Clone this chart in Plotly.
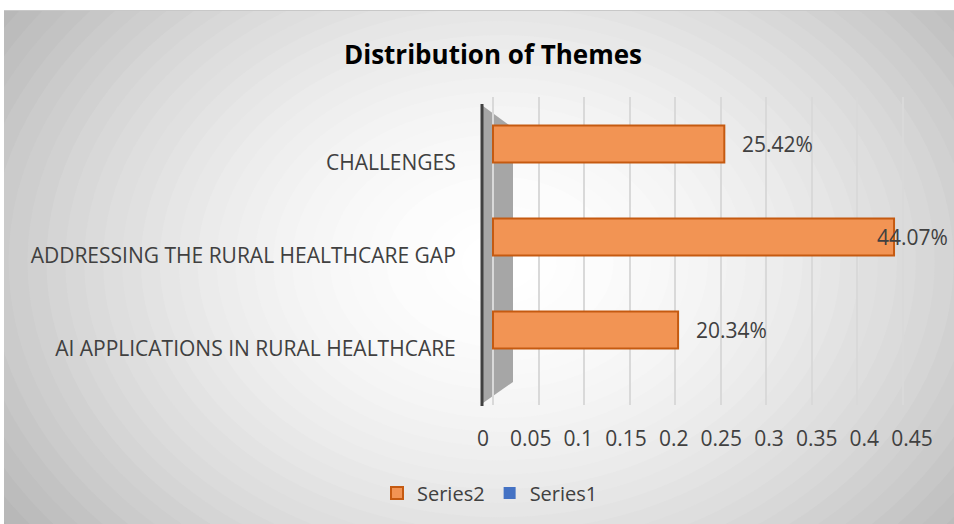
import plotly.graph_objects as go

# ---------------- data ----------------
categories = [
    "AI APPLICATIONS IN RURAL HEALTHCARE",
    "ADDRESSING THE RURAL HEALTHCARE GAP",
    "CHALLENGES",
]
series2 = [0.2034, 0.4407, 0.2542]
series2_labels = ["20.34%", "44.07%", "25.42%"]
series1 = [0, 0, 0]
x_tick_vals = [0, 0.05, 0.1, 0.15, 0.2, 0.25, 0.3, 0.35, 0.4, 0.45]
x_tick_text = ["0", "0.05", "0.1", "0.15", "0.2", "0.25", "0.3", "0.35", "0.4", "0.45"]

# ---------------- layout geometry ----------------
W, H = 954, 524
L, R, T, B = 483, 912, 97, 405          # plot area in pixels
FONT = "Open Sans"
TXT = "#404040"


def xp(px):
    return (px - L) / (R - L)


def yp(py):
    return (B - py) / (B - T)


# bar axis: front plane of the 3D bars
bar_zero_px, bar_scale = 493, 910
x_range = [(L - bar_zero_px) / bar_scale, (R - bar_zero_px) / bar_scale]
band, c0 = 93, 330
y_range = [-(B - c0) / band, (c0 - T) / band]
lab_shift = 19 / band
y2_range = [y_range[0] + lab_shift, y_range[1] + lab_shift]

fig = go.Figure()
fig.add_trace(go.Bar(
    name="Series2", x=series2, y=categories, orientation="h",
    xaxis="x", yaxis="y", width=0.4,
    marker=dict(color="#F29454", line=dict(color="#C55A11", width=2)),
    hoverinfo="x+y",
))
fig.add_trace(go.Bar(
    name="Series1", x=series1, y=categories, orientation="h",
    xaxis="x2", yaxis="y2", width=0.4,
    marker=dict(color="#4472C4", line=dict(color="#2F528F", width=0)),
))

# background: radial gradient approximated by concentric ellipses
shapes = []
cx, cy, rx, ry = 500, 262, 560, 420
shapes.append(dict(type="rect", xref="paper", yref="paper",
                   x0=xp(4), x1=xp(W), y0=yp(10), y1=yp(H),
                   fillcolor="#bdbdbd", line=dict(width=0), layer="below"))
N = 40
for k in range(N):
    r = 1.35 * (1 - k / N)
    g = int(round(255 - 62 * r ** 1.8))
    g = max(0, min(255, g))
    col = f"rgb({g},{g},{g})"
    shapes.append(dict(type="circle", xref="paper", yref="paper",
                       x0=xp(cx - r * rx), x1=xp(cx + r * rx),
                       y0=yp(cy + r * ry), y1=yp(cy - r * ry),
                       fillcolor=col, line=dict(width=0), layer="below"))
# white outside margins
shapes.append(dict(type="rect", xref="paper", yref="paper",
                   x0=xp(-50), x1=xp(W + 50), y0=yp(10), y1=yp(-50),
                   fillcolor="white", line=dict(width=0), layer="below"))
shapes.append(dict(type="rect", xref="paper", yref="paper",
                   x0=xp(-50), x1=xp(4), y0=yp(H + 50), y1=yp(-50),
                   fillcolor="white", line=dict(width=0), layer="below"))
shapes.append(dict(type="line", xref="paper", yref="paper",
                   x0=xp(4), x1=xp(W), y0=yp(10.5), y1=yp(10.5),
                   line=dict(color="#c8c8c8", width=1), layer="below"))
# side wall of the 3D category axis
shapes.append(dict(type="path", xref="paper", yref="paper",
                   path=(f"M {xp(483)} {yp(106)} L {xp(513)} {yp(128)} "
                         f"L {xp(513)} {yp(382)} L {xp(483)} {yp(403)} Z"),
                   fillcolor="#a6a6a6", line=dict(width=0), layer="below"))
shapes.append(dict(type="line", xref="paper", yref="paper",
                   x0=xp(482), x1=xp(482), y0=yp(104), y1=yp(406),
                   line=dict(color="#404040", width=3), layer="below"))

# data labels
annotations = []
LABEL_W = 78
for v, c, t in zip(series2, categories, series2_labels):
    end_px = bar_zero_px + v * bar_scale
    shift = 16 if end_px + 16 + LABEL_W <= W else (W - 1 - LABEL_W) - end_px
    annotations.append(dict(x=v, y=c, xref="x", yref="y", text=t,
                            showarrow=False, xanchor="left", yanchor="middle",
                            xshift=shift, font=dict(family=FONT, size=21, color=TXT)))

fig.update_layout(
    width=W, height=H,
    margin=dict(l=L, r=W - R, t=T, b=H - B, pad=0),
    paper_bgcolor="white", plot_bgcolor="rgba(0,0,0,0)",
    title=dict(text="<b>Distribution of Themes</b>", x=493 / W, xanchor="center",
               y=1 - 55 / H, yanchor="middle", xref="container", yref="container",
               font=dict(family=FONT, size=26, color="black")),
    xaxis=dict(range=x_range, showticklabels=False, showgrid=True,
               gridcolor="#d9d9d9", gridwidth=1.5, tick0=0, dtick=0.05,
               zeroline=False, showline=False, fixedrange=True),
    yaxis=dict(range=y_range, showticklabels=False, showgrid=False,
               categoryorder="array", categoryarray=categories,
               zeroline=False, showline=False),
    xaxis2=dict(overlaying="x", anchor="y2", side="bottom", range=[0, 0.45],
                tickvals=x_tick_vals, ticktext=x_tick_text, showgrid=False,
                zeroline=False, showline=False, ticks="outside", ticklen=15,
                tickcolor="rgba(0,0,0,0)",
                tickfont=dict(family=FONT, size=21, color=TXT)),
    yaxis2=dict(overlaying="y", anchor="x2", side="left", range=y2_range,
                categoryorder="array", categoryarray=categories, showgrid=False,
                zeroline=False, showline=False, ticks="outside", ticklen=22,
                tickcolor="rgba(0,0,0,0)",
                tickfont=dict(family=FONT, size=21, color=TXT)),
    barmode="group",
    showlegend=True,
    legend=dict(orientation="h", x=xp(490), xanchor="center",
                y=yp(493), yanchor="middle", bgcolor="rgba(0,0,0,0)",
                font=dict(family=FONT, size=20, color=TXT), traceorder="normal",
                itemwidth=30),
    shapes=shapes,
    annotations=annotations,
)

fig.write_html("out.html", config={"displayModeBar": False},
               post_script="document.body.style.margin='0';")
